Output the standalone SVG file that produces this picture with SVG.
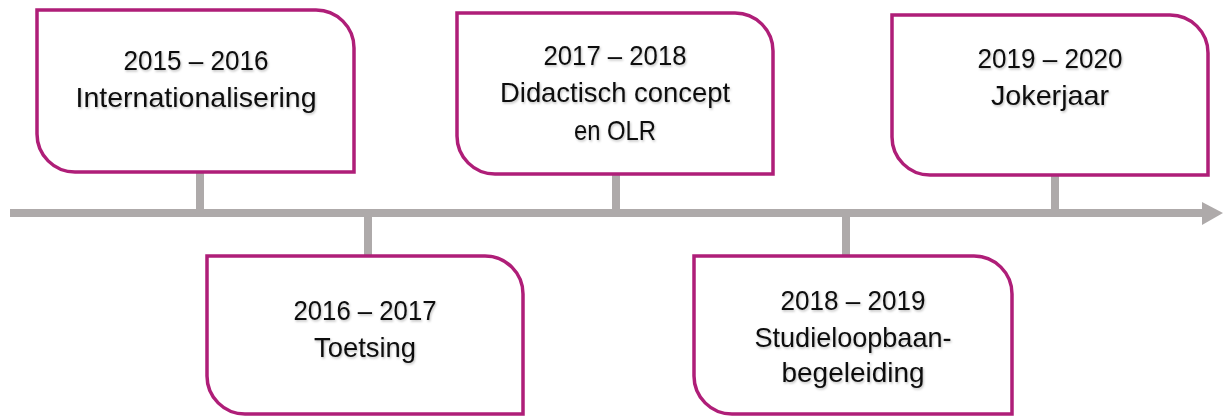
<svg xmlns="http://www.w3.org/2000/svg" width="1224" height="417" viewBox="0 0 1224 417">
<style>
.box{fill:#fff;stroke:#AF1E78;stroke-width:3.5}
.ln{stroke:#AEAAAA;stroke-width:8;fill:none}
.t{font-family:"Liberation Sans",Arial,sans-serif;font-size:28.5px;fill:#111;text-anchor:middle;filter:url(#sh)}
</style>
<defs>
<filter id="sh" x="-10%" y="-30%" width="120%" height="160%">
<feDropShadow dx="1" dy="1.5" stdDeviation="1" flood-color="#000" flood-opacity="0.25"/>
</filter>
</defs>
<g id="connectors">
<line class="ln" x1="10" y1="213" x2="1204" y2="213"/>
<polygon points="1202,202 1223,213 1202,225" fill="#AEAAAA"/>
<line class="ln" x1="200" y1="172" x2="200" y2="213"/>
<line class="ln" x1="368" y1="213" x2="368" y2="256"/>
<line class="ln" x1="616" y1="174" x2="616" y2="213"/>
<line class="ln" x1="846" y1="213" x2="846" y2="256"/>
<line class="ln" x1="1055" y1="175" x2="1055" y2="213"/>
</g>
<g id="n1">
<path class="box" d="M37,10 H316 A38,38 0 0 1 354,48 V172 H75 A38,38 0 0 1 37,134 Z"/>
<text class="t" x="196" y="70" textLength="145" lengthAdjust="spacingAndGlyphs">2015 – 2016</text>
<text class="t" x="196" y="107" textLength="241" lengthAdjust="spacingAndGlyphs">Internationalisering</text>
</g>
<g id="n2">
<path class="box" d="M207,256 H485 A38,38 0 0 1 523,294 V414 H245 A38,38 0 0 1 207,376 Z"/>
<text class="t" x="365" y="320" textLength="143" lengthAdjust="spacingAndGlyphs">2016 – 2017</text>
<text class="t" x="365" y="357" textLength="102" lengthAdjust="spacingAndGlyphs">Toetsing</text>
</g>
<g id="n3">
<path class="box" d="M457,13 H735 A38,38 0 0 1 773,51 V174 H495 A38,38 0 0 1 457,136 Z"/>
<text class="t" x="615" y="65" textLength="143" lengthAdjust="spacingAndGlyphs">2017 – 2018</text>
<text class="t" x="615" y="102" textLength="230" lengthAdjust="spacingAndGlyphs">Didactisch concept</text>
<text class="t" x="615" y="140" textLength="82" lengthAdjust="spacingAndGlyphs">en OLR</text>
</g>
<g id="n4">
<path class="box" d="M694,256 H974 A38,38 0 0 1 1012,294 V414 H732 A38,38 0 0 1 694,376 Z"/>
<text class="t" x="853" y="310" textLength="145" lengthAdjust="spacingAndGlyphs">2018 – 2019</text>
<text class="t" x="853" y="347" textLength="197" lengthAdjust="spacingAndGlyphs">Studieloopbaan-</text>
<text class="t" x="853" y="382" textLength="143" lengthAdjust="spacingAndGlyphs">begeleiding</text>
</g>
<g id="n5">
<path class="box" d="M892,15 H1170 A38,38 0 0 1 1208,53 V175 H930 A38,38 0 0 1 892,137 Z"/>
<text class="t" x="1050" y="68" textLength="145" lengthAdjust="spacingAndGlyphs">2019 – 2020</text>
<text class="t" x="1050" y="105" textLength="118" lengthAdjust="spacingAndGlyphs">Jokerjaar</text>
</g>
</svg>
